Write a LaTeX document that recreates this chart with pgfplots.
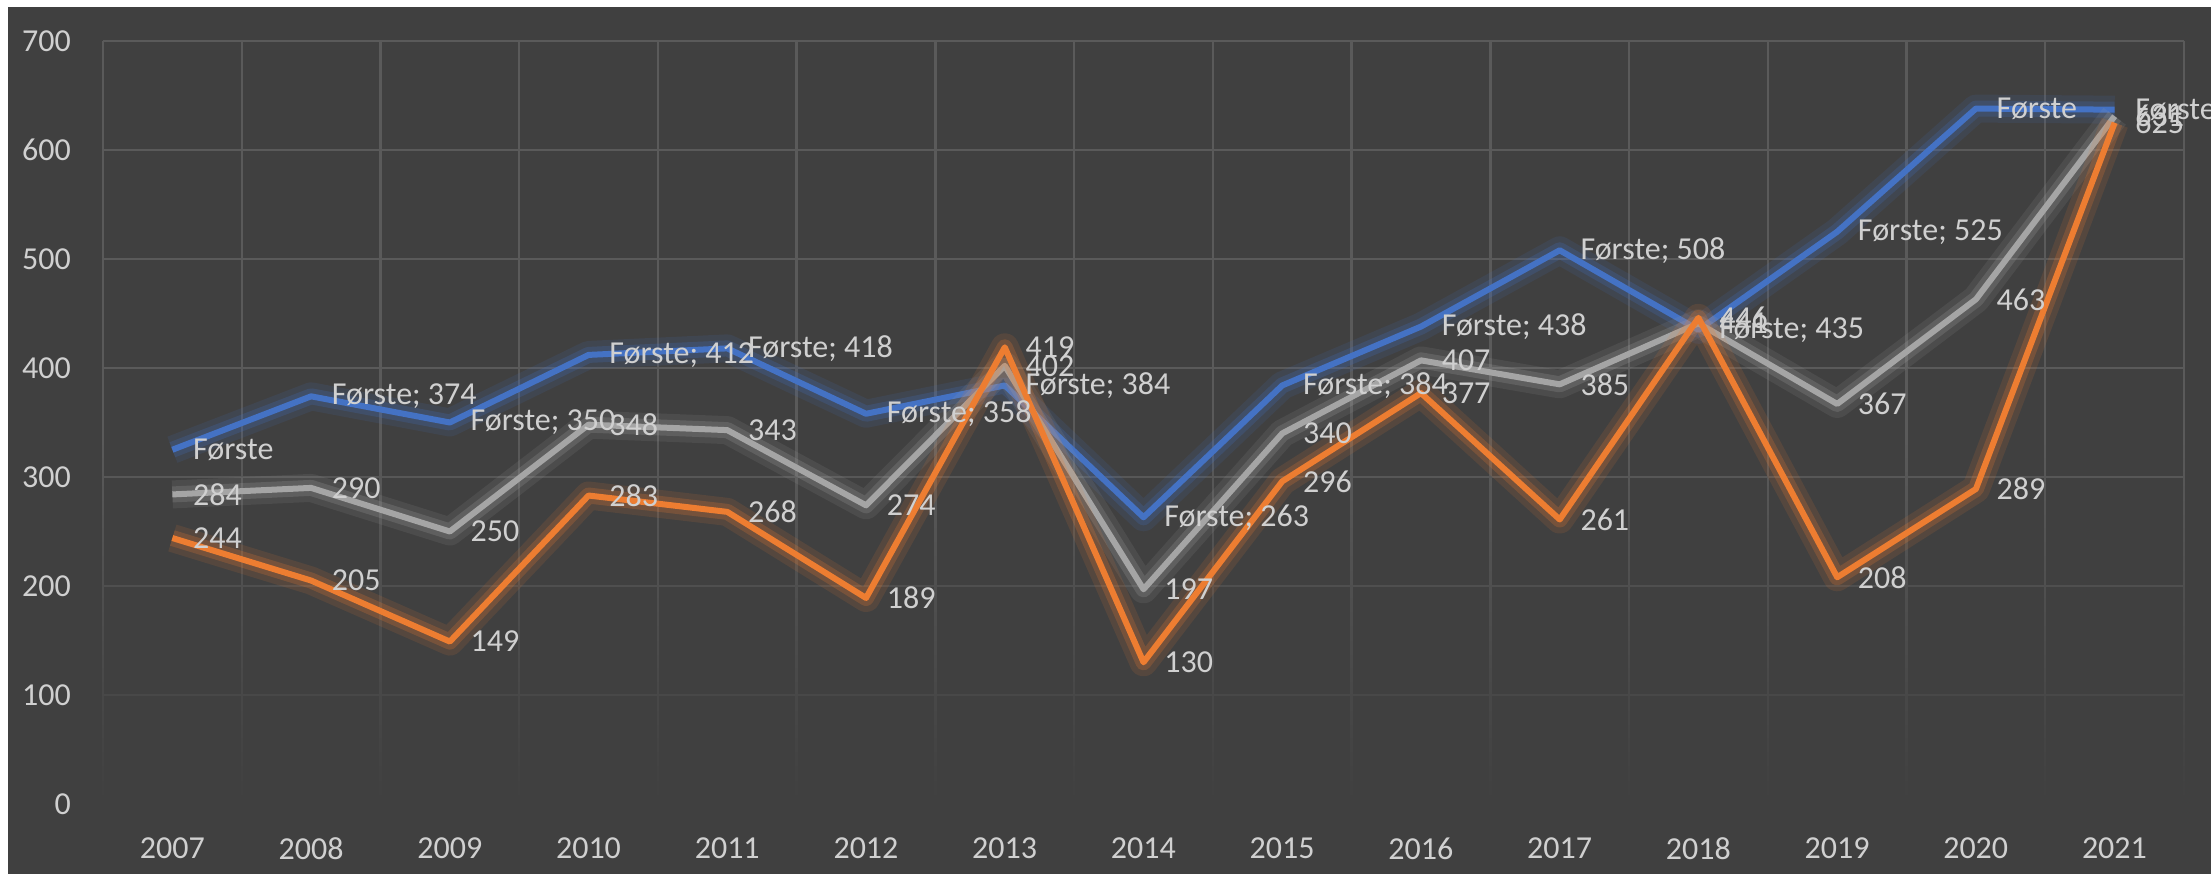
\documentclass[border=0pt]{standalone}
\usepackage{fontspec}
\setmainfont{Carlito}
\usepackage{pgfplots}
\pgfplotsset{compat=1.18}
\usepackage{pgfplotstable}
\usetikzlibrary{fadings}

\definecolor{bg}{HTML}{404040}
\definecolor{gridc}{HTML}{5A5A5A}
\definecolor{txt}{HTML}{D0D0D0}
\definecolor{sblue}{HTML}{4472C4}
\definecolor{sgray}{HTML}{A5A5A5}
\definecolor{sorange}{HTML}{ED7D31}

\tikzfading[name=fadeup, top color=transparent!100, bottom color=transparent!0]

% Første
\pgfplotstableread{
year val
2007 325
2008 374
2009 350
2010 412
2011 418
2012 358
2013 384
2014 263
2015 384
2016 438
2017 508
2018 435
2019 525
2020 638
2021 637
}\forste

% grey series
\pgfplotstableread{
year val
2007 284
2008 290
2009 250
2010 348
2011 343
2012 274
2013 402
2014 197
2015 340
2016 407
2017 385
2018 441
2019 367
2020 463
2021 631
}\graa

% orange series
\pgfplotstableread{
year val
2007 244
2008 205
2009 149
2010 283
2011 268
2012 189
2013 419
2014 130
2015 296
2016 377
2017 261
2018 446
2019 208
2020 289
2021 625
}\oransje

\pgfplotsset{
  glowA/.style={forget plot, line width=7pt, opacity=0.12, line join=round},
  glowB/.style={forget plot, line width=4pt, opacity=0.22, line join=round},
  serie/.style={forget plot, line width=1.5pt, line join=round},
  lbl/.style={forget plot, draw=none, point meta=explicit symbolic,
    every node near coord/.append style={anchor=west, xshift=5pt, inner sep=0pt,
      text=txt, font=\fontsize{8}{9.6}\selectfont}},
}

\begin{document}
\begin{tikzpicture}
\fill[white] (0,0) rectangle (552.75pt,218.5pt);
\fill[bg] (2pt,0) rectangle (552.75pt,216.75pt);
\useasboundingbox (0,0) rectangle (552.75pt,218.5pt);
\begin{axis}[
  at={(25.75pt,17.5pt)}, anchor=south west,
  scale only axis, width=520.25pt, height=190.75pt,
  clip=false,
  xmin=2006.5, xmax=2021.5, ymin=0, ymax=700,
  xtick={2007,...,2021},
  minor xtick={2006.5,2007.5,...,2021.5},
  ytick={0,100,...,700},
  ymajorgrids, xminorgrids,
  grid style={gridc, line width=0.6pt},
  minor grid style={gridc, line width=0.6pt},
  axis line style={draw=none},
  major tick length=0pt, minor tick length=0pt,
  tick label style={text=txt, font=\fontsize{8}{9.6}\selectfont},
  /pgf/number format/assume math mode=true,
  /pgf/number format/1000 sep={},
  yticklabel style={xshift=-4.5pt},
  xticklabel style={yshift=-5pt},
]
\fill[bg, path fading=fadeup] (axis cs:2006.45,-3) rectangle (axis cs:2021.55,330);

\addplot[glowA, sblue] table[x=year, y=val] {\forste};
\addplot[glowB, sblue] table[x=year, y=val] {\forste};
\addplot[serie, sblue] table[x=year, y=val] {\forste};

\addplot[glowA, sgray] table[x=year, y=val] {\graa};
\addplot[glowB, sgray] table[x=year, y=val] {\graa};
\addplot[serie, sgray] table[x=year, y=val] {\graa};

\addplot[glowA, sorange] table[x=year, y=val] {\oransje};
\addplot[glowB, sorange] table[x=year, y=val] {\oransje};
\addplot[serie, sorange] table[x=year, y=val] {\oransje};

% data labels
\addplot[lbl, nodes near coords={Første; \pgfplotspointmeta},
  restrict x to domain=2008:2019] table[x=year, y=val, meta=val] {\forste};
\addplot[lbl, nodes near coords={Første},
  x filter/.expression={(x>2007.5 && x<2019.5) ? nan : x}] table[x=year, y=val, meta=val] {\forste};
\addplot[lbl, nodes near coords] table[x=year, y=val, meta=val] {\graa};
\addplot[lbl, nodes near coords] table[x=year, y=val, meta=val] {\oransje};
\end{axis}
\end{tikzpicture}
\end{document}
